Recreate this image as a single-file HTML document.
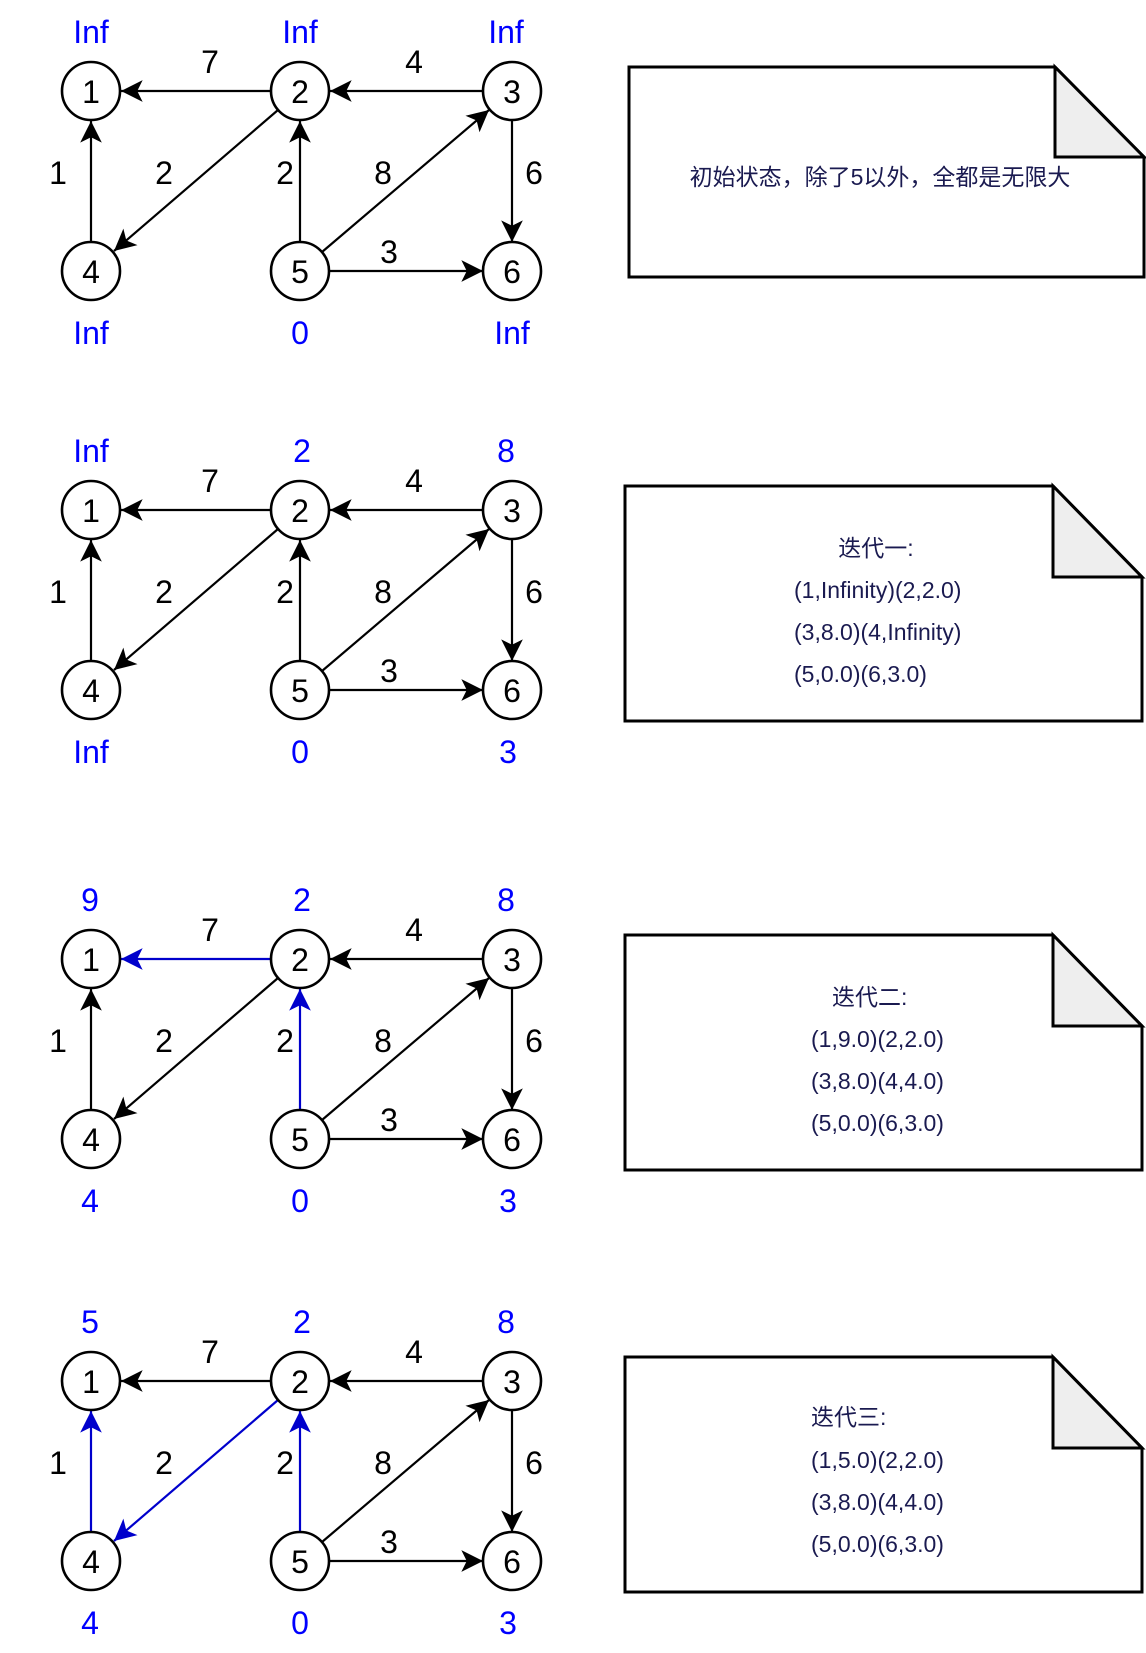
<!DOCTYPE html>
<html><head><meta charset="utf-8"><style>
html,body{margin:0;padding:0;background:#fff;}
svg{display:block;}
.n{font-family:"Liberation Sans",sans-serif;font-size:32px;text-anchor:middle;dominant-baseline:central;fill:#000;}
.v{font-family:"Liberation Sans",sans-serif;font-size:32px;text-anchor:middle;dominant-baseline:central;fill:#0000ff;}
.t{font-family:"Liberation Sans","Noto Sans CJK SC",sans-serif;font-size:23px;fill:#1a1a50;dominant-baseline:central;}
</style></head><body>
<svg width="1146" height="1653" viewBox="0 0 1146 1653" xmlns="http://www.w3.org/2000/svg">
<defs>
<marker id="ab" markerUnits="userSpaceOnUse" markerWidth="26" markerHeight="26" viewBox="-21 -12 23 24" refX="0" refY="0" orient="auto"><path d="M0,0 L-20,-10 L-15,0 L-20,10 Z" fill="#000"/></marker>
<marker id="au" markerUnits="userSpaceOnUse" markerWidth="26" markerHeight="26" viewBox="-21 -12 23 24" refX="0" refY="0" orient="auto"><path d="M0,0 L-20,-10 L-15,0 L-20,10 Z" fill="#0000cc"/></marker>
</defs>

<!-- Graph 1 -->
<g transform="translate(0,0)" stroke-width="2.2" fill="none">
<line x1="271" y1="91" x2="121" y2="91" stroke="#000" marker-end="url(#ab)"/>
<line x1="483" y1="91" x2="330" y2="91" stroke="#000" marker-end="url(#ab)"/>
<line x1="91" y1="242" x2="91" y2="121" stroke="#000" marker-end="url(#ab)"/>
<line x1="300" y1="242" x2="300" y2="121" stroke="#000" marker-end="url(#ab)"/>
<line x1="512" y1="120" x2="512" y2="242" stroke="#000" marker-end="url(#ab)"/>
<line x1="329" y1="271" x2="483" y2="271" stroke="#000" marker-end="url(#ab)"/>
<line x1="278" y1="110" x2="114" y2="251" stroke="#000" marker-end="url(#ab)"/>
<line x1="322" y1="252" x2="489" y2="110" stroke="#000" marker-end="url(#ab)"/>
<g stroke="#000" fill="#fff" stroke-width="2.6"><circle cx="91" cy="91" r="29"/><circle cx="300" cy="91" r="29"/><circle cx="512" cy="91" r="29"/><circle cx="91" cy="271" r="29"/><circle cx="300" cy="271" r="29"/><circle cx="512" cy="271" r="29"/></g>
<g stroke="none"><text class="n" x="91" y="92">1</text><text class="n" x="300" y="92">2</text><text class="n" x="512" y="92">3</text><text class="n" x="91" y="272">4</text><text class="n" x="300" y="272">5</text><text class="n" x="512" y="272">6</text>
<text class="n" x="210" y="62">7</text><text class="n" x="414" y="62">4</text><text class="n" x="58" y="173">1</text><text class="n" x="164" y="173">2</text><text class="n" x="285" y="173">2</text><text class="n" x="383" y="173">8</text><text class="n" x="534" y="173">6</text><text class="n" x="389" y="252">3</text>
<text class="v" x="91" y="32">Inf</text><text class="v" x="300" y="32">Inf</text><text class="v" x="506" y="32">Inf</text><text class="v" x="91" y="333">Inf</text><text class="v" x="300" y="333">0</text><text class="v" x="512" y="333">Inf</text></g>
<path d="M629,67 L1055,67 L1144,157 L1144,277 L629,277 Z" stroke="#000" stroke-width="3" fill="#fff"/>
<path d="M1055,67 L1055,157 L1144,157 Z" stroke="#000" stroke-width="3" fill="#eeeeee"/>
<text class="t" x="880" y="177" text-anchor="middle" stroke="none">初始状态，除了5以外，全都是无限大</text>
</g>

<!-- Graph 2 -->
<g transform="translate(0,419)" stroke-width="2.2" fill="none">
<line x1="271" y1="91" x2="121" y2="91" stroke="#000" marker-end="url(#ab)"/>
<line x1="483" y1="91" x2="330" y2="91" stroke="#000" marker-end="url(#ab)"/>
<line x1="91" y1="242" x2="91" y2="121" stroke="#000" marker-end="url(#ab)"/>
<line x1="300" y1="242" x2="300" y2="121" stroke="#000" marker-end="url(#ab)"/>
<line x1="512" y1="120" x2="512" y2="242" stroke="#000" marker-end="url(#ab)"/>
<line x1="329" y1="271" x2="483" y2="271" stroke="#000" marker-end="url(#ab)"/>
<line x1="278" y1="110" x2="114" y2="251" stroke="#000" marker-end="url(#ab)"/>
<line x1="322" y1="252" x2="489" y2="110" stroke="#000" marker-end="url(#ab)"/>
<g stroke="#000" fill="#fff" stroke-width="2.6"><circle cx="91" cy="91" r="29"/><circle cx="300" cy="91" r="29"/><circle cx="512" cy="91" r="29"/><circle cx="91" cy="271" r="29"/><circle cx="300" cy="271" r="29"/><circle cx="512" cy="271" r="29"/></g>
<g stroke="none"><text class="n" x="91" y="92">1</text><text class="n" x="300" y="92">2</text><text class="n" x="512" y="92">3</text><text class="n" x="91" y="272">4</text><text class="n" x="300" y="272">5</text><text class="n" x="512" y="272">6</text>
<text class="n" x="210" y="62">7</text><text class="n" x="414" y="62">4</text><text class="n" x="58" y="173">1</text><text class="n" x="164" y="173">2</text><text class="n" x="285" y="173">2</text><text class="n" x="383" y="173">8</text><text class="n" x="534" y="173">6</text><text class="n" x="389" y="252">3</text>
<text class="v" x="91" y="32">Inf</text><text class="v" x="302" y="32">2</text><text class="v" x="506" y="32">8</text><text class="v" x="91" y="333">Inf</text><text class="v" x="300" y="333">0</text><text class="v" x="508" y="333">3</text></g>
<path d="M625,67 L1053,67 L1142,158 L1142,302 L625,302 Z" stroke="#000" stroke-width="3" fill="#fff"/>
<path d="M1053,67 L1053,158 L1142,158 Z" stroke="#000" stroke-width="3" fill="#eeeeee"/>
<g stroke="none"><text class="t" x="876" y="129" text-anchor="middle">迭代一:</text>
<text class="t" x="794" y="171">(1,Infinity)(2,2.0)</text>
<text class="t" x="794" y="213">(3,8.0)(4,Infinity)</text>
<text class="t" x="794" y="255">(5,0.0)(6,3.0)</text></g>
</g>

<!-- Graph 3 -->
<g transform="translate(0,868)" stroke-width="2.2" fill="none">
<line x1="271" y1="91" x2="121" y2="91" stroke="#0000cc" marker-end="url(#au)"/>
<line x1="483" y1="91" x2="330" y2="91" stroke="#000" marker-end="url(#ab)"/>
<line x1="91" y1="242" x2="91" y2="121" stroke="#000" marker-end="url(#ab)"/>
<line x1="300" y1="242" x2="300" y2="121" stroke="#0000cc" marker-end="url(#au)"/>
<line x1="512" y1="120" x2="512" y2="242" stroke="#000" marker-end="url(#ab)"/>
<line x1="329" y1="271" x2="483" y2="271" stroke="#000" marker-end="url(#ab)"/>
<line x1="278" y1="110" x2="114" y2="251" stroke="#000" marker-end="url(#ab)"/>
<line x1="322" y1="252" x2="489" y2="110" stroke="#000" marker-end="url(#ab)"/>
<g stroke="#000" fill="#fff" stroke-width="2.6"><circle cx="91" cy="91" r="29"/><circle cx="300" cy="91" r="29"/><circle cx="512" cy="91" r="29"/><circle cx="91" cy="271" r="29"/><circle cx="300" cy="271" r="29"/><circle cx="512" cy="271" r="29"/></g>
<g stroke="none"><text class="n" x="91" y="92">1</text><text class="n" x="300" y="92">2</text><text class="n" x="512" y="92">3</text><text class="n" x="91" y="272">4</text><text class="n" x="300" y="272">5</text><text class="n" x="512" y="272">6</text>
<text class="n" x="210" y="62">7</text><text class="n" x="414" y="62">4</text><text class="n" x="58" y="173">1</text><text class="n" x="164" y="173">2</text><text class="n" x="285" y="173">2</text><text class="n" x="383" y="173">8</text><text class="n" x="534" y="173">6</text><text class="n" x="389" y="252">3</text>
<text class="v" x="90" y="32">9</text><text class="v" x="302" y="32">2</text><text class="v" x="506" y="32">8</text><text class="v" x="90" y="333">4</text><text class="v" x="300" y="333">0</text><text class="v" x="508" y="333">3</text></g>
<path d="M625,67 L1053,67 L1142,158 L1142,302 L625,302 Z" stroke="#000" stroke-width="3" fill="#fff"/>
<path d="M1053,67 L1053,158 L1142,158 Z" stroke="#000" stroke-width="3" fill="#eeeeee"/>
<g stroke="none"><text class="t" x="832" y="129">迭代二:</text>
<text class="t" x="811" y="171">(1,9.0)(2,2.0)</text>
<text class="t" x="811" y="213">(3,8.0)(4,4.0)</text>
<text class="t" x="811" y="255">(5,0.0)(6,3.0)</text></g>
</g>

<!-- Graph 4 -->
<g transform="translate(0,1290)" stroke-width="2.2" fill="none">
<line x1="271" y1="91" x2="121" y2="91" stroke="#000" marker-end="url(#ab)"/>
<line x1="483" y1="91" x2="330" y2="91" stroke="#000" marker-end="url(#ab)"/>
<line x1="91" y1="242" x2="91" y2="121" stroke="#0000cc" marker-end="url(#au)"/>
<line x1="300" y1="242" x2="300" y2="121" stroke="#0000cc" marker-end="url(#au)"/>
<line x1="512" y1="120" x2="512" y2="242" stroke="#000" marker-end="url(#ab)"/>
<line x1="329" y1="271" x2="483" y2="271" stroke="#000" marker-end="url(#ab)"/>
<line x1="278" y1="110" x2="114" y2="251" stroke="#0000cc" marker-end="url(#au)"/>
<line x1="322" y1="252" x2="489" y2="110" stroke="#000" marker-end="url(#ab)"/>
<g stroke="#000" fill="#fff" stroke-width="2.6"><circle cx="91" cy="91" r="29"/><circle cx="300" cy="91" r="29"/><circle cx="512" cy="91" r="29"/><circle cx="91" cy="271" r="29"/><circle cx="300" cy="271" r="29"/><circle cx="512" cy="271" r="29"/></g>
<g stroke="none"><text class="n" x="91" y="92">1</text><text class="n" x="300" y="92">2</text><text class="n" x="512" y="92">3</text><text class="n" x="91" y="272">4</text><text class="n" x="300" y="272">5</text><text class="n" x="512" y="272">6</text>
<text class="n" x="210" y="62">7</text><text class="n" x="414" y="62">4</text><text class="n" x="58" y="173">1</text><text class="n" x="164" y="173">2</text><text class="n" x="285" y="173">2</text><text class="n" x="383" y="173">8</text><text class="n" x="534" y="173">6</text><text class="n" x="389" y="252">3</text>
<text class="v" x="90" y="32">5</text><text class="v" x="302" y="32">2</text><text class="v" x="506" y="32">8</text><text class="v" x="90" y="333">4</text><text class="v" x="300" y="333">0</text><text class="v" x="508" y="333">3</text></g>
<path d="M625,67 L1053,67 L1142,158 L1142,302 L625,302 Z" stroke="#000" stroke-width="3" fill="#fff"/>
<path d="M1053,67 L1053,158 L1142,158 Z" stroke="#000" stroke-width="3" fill="#eeeeee"/>
<g stroke="none"><text class="t" x="811" y="127">迭代三:</text>
<text class="t" x="811" y="170">(1,5.0)(2,2.0)</text>
<text class="t" x="811" y="212">(3,8.0)(4,4.0)</text>
<text class="t" x="811" y="254">(5,0.0)(6,3.0)</text></g>
</g>
</svg>
</body></html>
